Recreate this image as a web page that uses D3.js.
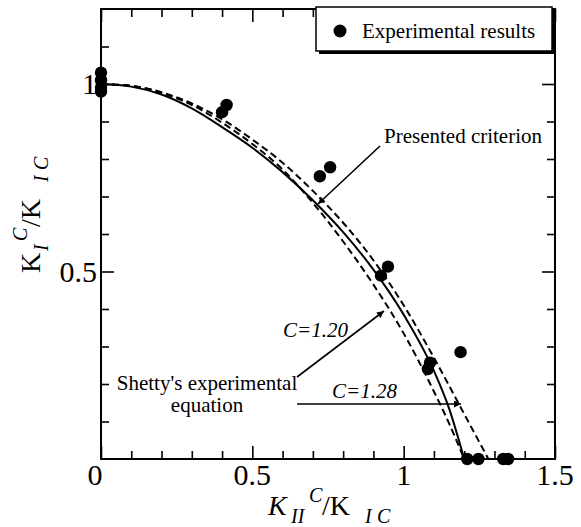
<!DOCTYPE html>
<html>
<head>
<meta charset="utf-8">
<script src="https://cdn.jsdelivr.net/npm/d3@7"></script>
<style>
body { margin: 0; background: #fff; }
text { font-family: "Liberation Serif", "Times New Roman", serif; fill: #000; }
</style>
</head>
<body>
<script>
// experimental points (K_II/K_IC , K_I/K_IC)
var expX = [0, 0, 0, 0, 0.40, 0.415, 0.723, 0.757, 0.925, 0.948, 1.08, 1.087, 1.188, 1.21, 1.247, 1.329, 1.345]
var expY = [1.03, 1.01, 0.99, 0.98, 0.925, 0.944, 0.754, 0.778, 0.489, 0.513, 0.24, 0.257, 0.285, 0, 0, 0, 0]

// presented criterion (solid)
var critX = [0, 0.1, 0.2, 0.3, 0.4, 0.5, 0.6, 0.7, 0.8, 0.9, 1.0, 1.1, 1.15, 1.2]
var critY = [1.0, 0.993, 0.972, 0.935, 0.885, 0.83, 0.765, 0.69, 0.605, 0.505, 0.385, 0.235, 0.135, 0]

// Shetty's equation C=1.28 (outer dashed)
var c128X = [0, 0.1, 0.2, 0.3, 0.4, 0.5, 0.6, 0.7, 0.8, 0.9, 1.0, 1.1, 1.2, 1.28]
var c128Y = [1.0, 0.995, 0.978, 0.948, 0.906, 0.852, 0.79, 0.715, 0.63, 0.53, 0.41, 0.27, 0.12, 0]

// Shetty's equation C=1.20 (inner dashed)
var c120X = [0, 0.1, 0.2, 0.3, 0.4, 0.5, 0.6, 0.7, 0.8, 0.9, 1.0, 1.1, 1.15, 1.2]
var c120Y = [1.0, 0.995, 0.976, 0.944, 0.897, 0.84, 0.772, 0.683, 0.58, 0.465, 0.335, 0.18, 0.095, 0]

var xMajor = [0, 0.5, 1, 1.5]
var xLabels = ["0", "0.5", "1", "1.5"]
var xMinor = [0.1, 0.2, 0.3, 0.4, 0.6, 0.7, 0.8, 0.9, 1.1, 1.2, 1.3, 1.4]
var yMajor = [0.5, 1]
var yLabels = ["0.5", "1"]
var yMinor = [0.1, 0.2, 0.3, 0.4, 0.6, 0.7, 0.8, 0.9, 1.1]

var svg = d3.select("body").append("svg")
  .attr("width", 581)
  .attr("height", 527)

var x = d3.scaleLinear().domain([0, 1.5]).range([101, 555])
var y = d3.scaleLinear().domain([0, 1.2]).range([459, 9])

// frame
svg.append("rect")
  .attr("x", x(0)).attr("y", y(1.2))
  .attr("width", x(1.5) - x(0)).attr("height", y(0) - y(1.2))
  .style("fill", "none").style("stroke", "#000").style("stroke-width", 2)

function tickAxis(ax, vals, len, tr) {
  var g = svg.append("g").attr("transform", tr)
    .call(ax.tickValues(vals).tickSize(-len).tickFormat(""))
  g.select(".domain").remove()
  g.selectAll("line").style("stroke", "#000").style("stroke-width", 1.6)
}
tickAxis(d3.axisBottom(x), xMinor, 8, "translate(0," + y(0) + ")")
tickAxis(d3.axisBottom(x), xMajor, 13, "translate(0," + y(0) + ")")
tickAxis(d3.axisTop(x), xMinor, 8, "translate(0," + y(1.2) + ")")
tickAxis(d3.axisTop(x), xMajor, 13, "translate(0," + y(1.2) + ")")
tickAxis(d3.axisLeft(y), yMinor, 8, "translate(" + x(0) + ",0)")
tickAxis(d3.axisLeft(y), yMajor, 13, "translate(" + x(0) + ",0)")
tickAxis(d3.axisRight(y), yMinor, 8, "translate(" + x(1.5) + ",0)")
tickAxis(d3.axisRight(y), yMajor, 13, "translate(" + x(1.5) + ",0)")

// tick labels
svg.append("g").selectAll("text")
  .data(xMajor)
  .enter()
  .append("text")
  .attr("x", function(d) { return d === 0 ? x(d) - 6 : x(d) })
  .attr("y", 485)
  .attr("text-anchor", "middle")
  .style("font-size", "30px")
  .text(function(d, i) { return xLabels[i] })

svg.append("g").selectAll("text")
  .data(yMajor)
  .enter()
  .append("text")
  .attr("x", 97)
  .attr("y", function(d) { return y(d) + 10 })
  .attr("text-anchor", "end")
  .style("font-size", "30px")
  .text(function(d, i) { return yLabels[i] })

// curves
var linia = d3.line()
  .x(function(d) { return x(d[0]) })
  .y(function(d) { return y(d[1]) })
  .curve(d3.curveMonotoneX)

function para(xs, ys) { return xs.map(function(v, i) { return [v, ys[i]] }) }

svg.append("path").attr("d", linia(para(c128X, c128Y)))
  .style("fill", "none").style("stroke", "#000").style("stroke-width", 2)
  .style("stroke-dasharray", "7,4")
svg.append("path").attr("d", linia(para(c120X, c120Y)))
  .style("fill", "none").style("stroke", "#000").style("stroke-width", 2)
  .style("stroke-dasharray", "7,4")
svg.append("path").attr("d", linia(para(critX, critY)))
  .style("fill", "none").style("stroke", "#000").style("stroke-width", 2)

// experimental points
svg.append("g").selectAll("circle")
  .data(para(expX, expY))
  .enter()
  .append("circle")
  .attr("cx", function(d) { return x(d[0]) })
  .attr("cy", function(d) { return y(d[1]) })
  .attr("r", 6.2)
  .style("fill", "#000")

// arrows
svg.append("defs").append("marker")
  .attr("id", "grot")
  .attr("viewBox", "0 0 10 10")
  .attr("refX", 10).attr("refY", 5)
  .attr("markerWidth", 9).attr("markerHeight", 7)
  .attr("markerUnits", "userSpaceOnUse")
  .attr("orient", "auto")
  .append("path").attr("d", "M0,0 L10,5 L0,10 Z").style("fill", "#000")

var strzalki = [[380, 146, 318, 204], [297, 377, 384, 311], [297, 404, 461, 404]]
svg.append("g").selectAll("line")
  .data(strzalki)
  .enter()
  .append("line")
  .attr("x1", function(d) { return d[0] })
  .attr("y1", function(d) { return d[1] })
  .attr("x2", function(d) { return d[2] })
  .attr("y2", function(d) { return d[3] })
  .style("stroke", "#000").style("stroke-width", 1.6)
  .attr("marker-end", "url(#grot)")

// annotations
svg.append("text").attr("x", 384).attr("y", 143).style("font-size", "21px").text("Presented criterion")
svg.append("text").attr("x", 207).attr("y", 390).attr("text-anchor", "middle").style("font-size", "21px").text("Shetty's experimental")
svg.append("text").attr("x", 207).attr("y", 412).attr("text-anchor", "middle").style("font-size", "21px").text("equation")
svg.append("text").attr("x", 283).attr("y", 337).style("font-size", "21px").style("font-style", "italic").text("C=1.20")
svg.append("text").attr("x", 332).attr("y", 398).style("font-size", "21px").style("font-style", "italic").text("C=1.28")

// legend
svg.append("rect").attr("x", 319).attr("y", 10).attr("width", 236).attr("height", 44).style("fill", "#000")
svg.append("rect").attr("x", 316).attr("y", 7).attr("width", 236).attr("height", 44)
  .style("fill", "#fff").style("stroke", "#000").style("stroke-width", 1.5)
svg.append("circle").attr("cx", 340).attr("cy", 31).attr("r", 6.5).style("fill", "#000")
svg.append("text").attr("x", 362).attr("y", 38).style("font-size", "21px").text("Experimental results")

// axis titles
var tx = svg.append("text").attr("y", 515).style("font-size", "28px")
tx.append("tspan").attr("x", 268).style("font-style", "italic").text("K")
tx.append("tspan").attr("x", 291).style("font-style", "italic").style("font-size", "20px").attr("dy", 8).text("II")
tx.append("tspan").attr("x", 309).style("font-style", "italic").style("font-size", "20px").attr("dy", -21).text("C")
tx.append("tspan").attr("x", 322).attr("dy", 13).text("/K")
tx.append("tspan").attr("x", 365).style("font-style", "italic").style("font-size", "20px").attr("dy", 8).text("I")
tx.append("tspan").attr("x", 377).style("font-style", "italic").style("font-size", "20px").text("C")

var ty = svg.append("text").attr("transform", "translate(40,273) rotate(-90)").style("font-size", "28px")
ty.append("tspan").attr("x", 0).text("K")
ty.append("tspan").attr("x", 22).style("font-style", "italic").style("font-size", "20px").attr("dy", 8).text("I")
ty.append("tspan").attr("x", 32).style("font-style", "italic").style("font-size", "20px").attr("dy", -21).text("C")
ty.append("tspan").attr("x", 46).attr("dy", 13).text("/K")
ty.append("tspan").attr("x", 91).style("font-style", "italic").style("font-size", "20px").attr("dy", 8).text("I")
ty.append("tspan").attr("x", 103).style("font-style", "italic").style("font-size", "20px").text("C")
</script>
</body>
</html>
